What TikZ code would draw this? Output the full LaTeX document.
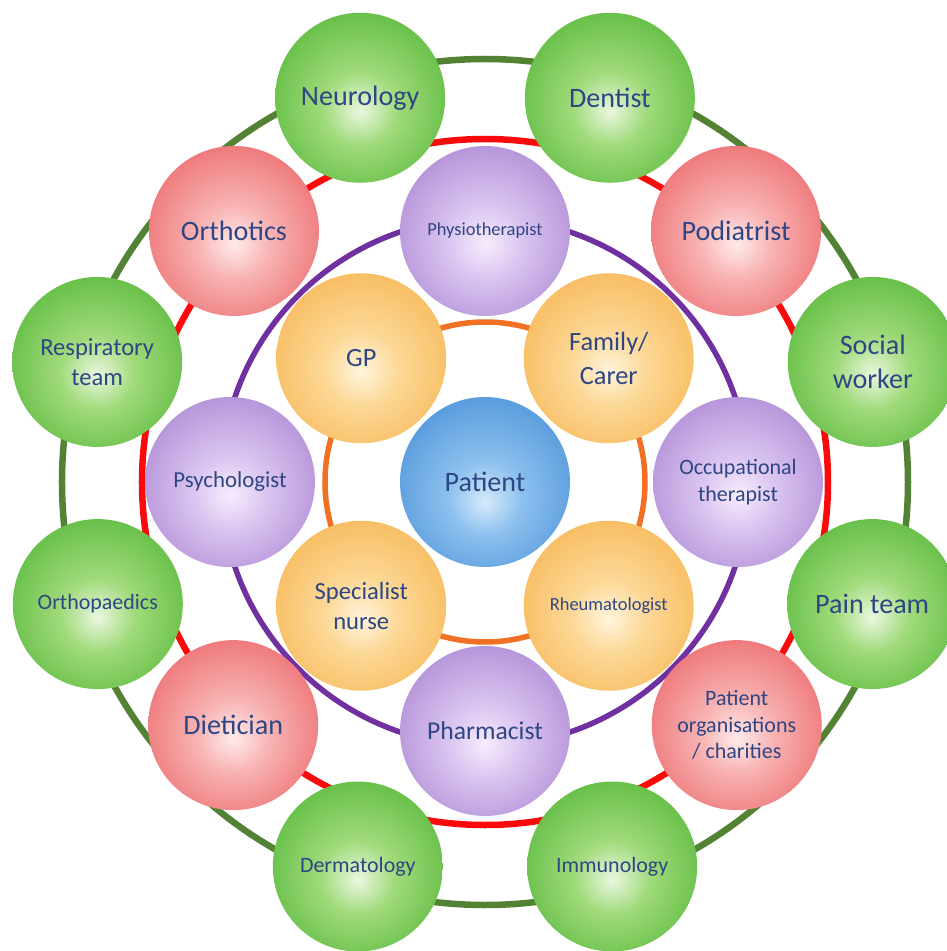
\documentclass[tikz,border=0pt]{standalone}
\usepackage{fontspec}
\setmainfont{Carlito}
\usepackage{tikz}

% ring and text colours
\definecolor{txtblue}{RGB}{46,70,132}
\definecolor{ringgreen}{RGB}{84,130,53}
\definecolor{ringred}{RGB}{250,10,10}
\definecolor{ringpurple}{RGB}{112,48,160}
\definecolor{ringorange}{RGB}{240,112,36}
% fill colours (inner / light / middle / outer)
\definecolor{greenin}{RGB}{234,247,224}
\definecolor{greenlt}{RGB}{160,218,122}
\definecolor{greenmid}{RGB}{104,192,74}
\definecolor{greenout}{RGB}{80,176,60}
\definecolor{redin}{RGB}{255,234,234}
\definecolor{redlt}{RGB}{248,178,178}
\definecolor{redmid}{RGB}{238,122,124}
\definecolor{redout}{RGB}{230,86,92}
\definecolor{purplein}{RGB}{247,236,253}
\definecolor{purplelt}{RGB}{218,196,240}
\definecolor{purplemid}{RGB}{182,150,218}
\definecolor{purpleout}{RGB}{154,114,198}
\definecolor{orangein}{RGB}{255,244,220}
\definecolor{orangelt}{RGB}{252,216,150}
\definecolor{orangemid}{RGB}{248,190,100}
\definecolor{orangeout}{RGB}{243,172,70}
\definecolor{bluein}{RGB}{214,234,251}
\definecolor{bluelt}{RGB}{140,192,238}
\definecolor{bluemid}{RGB}{92,158,222}
\definecolor{blueout}{RGB}{62,136,208}

\pgfdeclareradialshading{greenshade}{\pgfpoint{0bp}{-4bp}}{color(0bp)=(greenin); color(11bp)=(greenlt); color(27bp)=(greenmid); color(50bp)=(greenout)}
\pgfdeclareradialshading{redshade}{\pgfpoint{0bp}{-4bp}}{color(0bp)=(redin); color(11bp)=(redlt); color(27bp)=(redmid); color(50bp)=(redout)}
\pgfdeclareradialshading{purpleshade}{\pgfpoint{0bp}{-4bp}}{color(0bp)=(purplein); color(11bp)=(purplelt); color(27bp)=(purplemid); color(50bp)=(purpleout)}
\pgfdeclareradialshading{orangeshade}{\pgfpoint{0bp}{-4bp}}{color(0bp)=(orangein); color(11bp)=(orangelt); color(27bp)=(orangemid); color(50bp)=(orangeout)}
\pgfdeclareradialshading{blueshade}{\pgfpoint{0bp}{-6bp}}{color(0bp)=(bluein); color(11bp)=(bluelt); color(27bp)=(bluemid); color(50bp)=(blueout)}

\tikzset{
  ball/.style={circle, minimum size=3.4cm, inner sep=0pt, align=center, text=txtblue},
  greenball/.style={ball, shading=greenshade},
  redball/.style={ball, shading=redshade},
  purpleball/.style={ball, shading=purpleshade},
  orangeball/.style={ball, shading=orangeshade},
  blueball/.style={ball, shading=blueshade},
  hugetext/.style={font=\fontsize{16}{19.5}\selectfont},
  bigtext/.style={font=\fontsize{15}{19.5}\selectfont},
  midtext/.style={font=\fontsize{14}{17}\selectfont},
  smalltext/.style={font=\fontsize{12.5}{15.2}\selectfont},
  tinytext/.style={font=\fontsize{10.5}{12.5}\selectfont}
}

\begin{document}
\begin{tikzpicture}
            \useasboundingbox (-9.7,-9.38) rectangle (9.24,9.64);

            % rings
            \foreach \r/\col/\w in {8.46/ringgreen/0.13, 6.86/ringred/0.13, 5.28/ringpurple/0.11, 3.2/ringorange/0.11}
                \draw[\col, line width=\w cm] (0,0) circle (\r);

            % centre
            \node[blueball, hugetext] (patient) at (0,0) {Patient};

            % first ring
            \node[orangeball, bigtext] (gp) at (135:3.5) {GP};
            \node[orangeball, bigtext] (family) at (45:3.5) {Family/\\Carer};
            \node[orangeball, midtext] (nurse) at (225:3.5) {Specialist\\nurse};
            \node[orangeball, tinytext] (rheum) at (315:3.5) {Rheumatologist};

            % second ring
            \node[purpleball, tinytext] (physio) at (90:5.02) {Physiotherapist};
            \node[purpleball, font=\fontsize{13}{15.5}\selectfont] (psych) at (180:5.1) {Psychologist};
            \node[purpleball, smalltext] (occ) at (0:5.06) {Occupational\\therapist};
            \node[purpleball, font=\fontsize{14.6}{17}\selectfont] (pharm) at (270:4.98) {Pharmacist};

            % third ring
            \node[redball, hugetext] (orthotics) at (135:7.1) {Orthotics};
            \node[redball, hugetext] (podiatrist) at (45:7.1) {Podiatrist};
            \node[redball, hugetext] (dietician) at (224:7.0) {Dietician};
            \node[redball, smalltext] (charities) at (316:7.0) {Patient\\organisations\\/ charities};

            % outer ring
            \node[greenball, hugetext] (neuro) at (108:8.08) {Neurology};
            \node[greenball, hugetext] (dentist) at (72:8.08) {Dentist};
            \node[greenball, midtext] (resp) at (162.8:8.12) {Respiratory\\team};
            \node[greenball, hugetext] (social) at (17.2:8.12) {Social\\worker};
            \node[greenball, smalltext] (orthop) at (197.5:8.12) {Orthopaedics};
            \node[greenball, hugetext] (pain) at (342.5:8.12) {Pain team};
            \node[greenball, smalltext] (derm) at (251.7:8.1) {Dermatology};
            \node[greenball, smalltext] (immuno) at (288.3:8.1) {Immunology};
\end{tikzpicture}
\end{document}
